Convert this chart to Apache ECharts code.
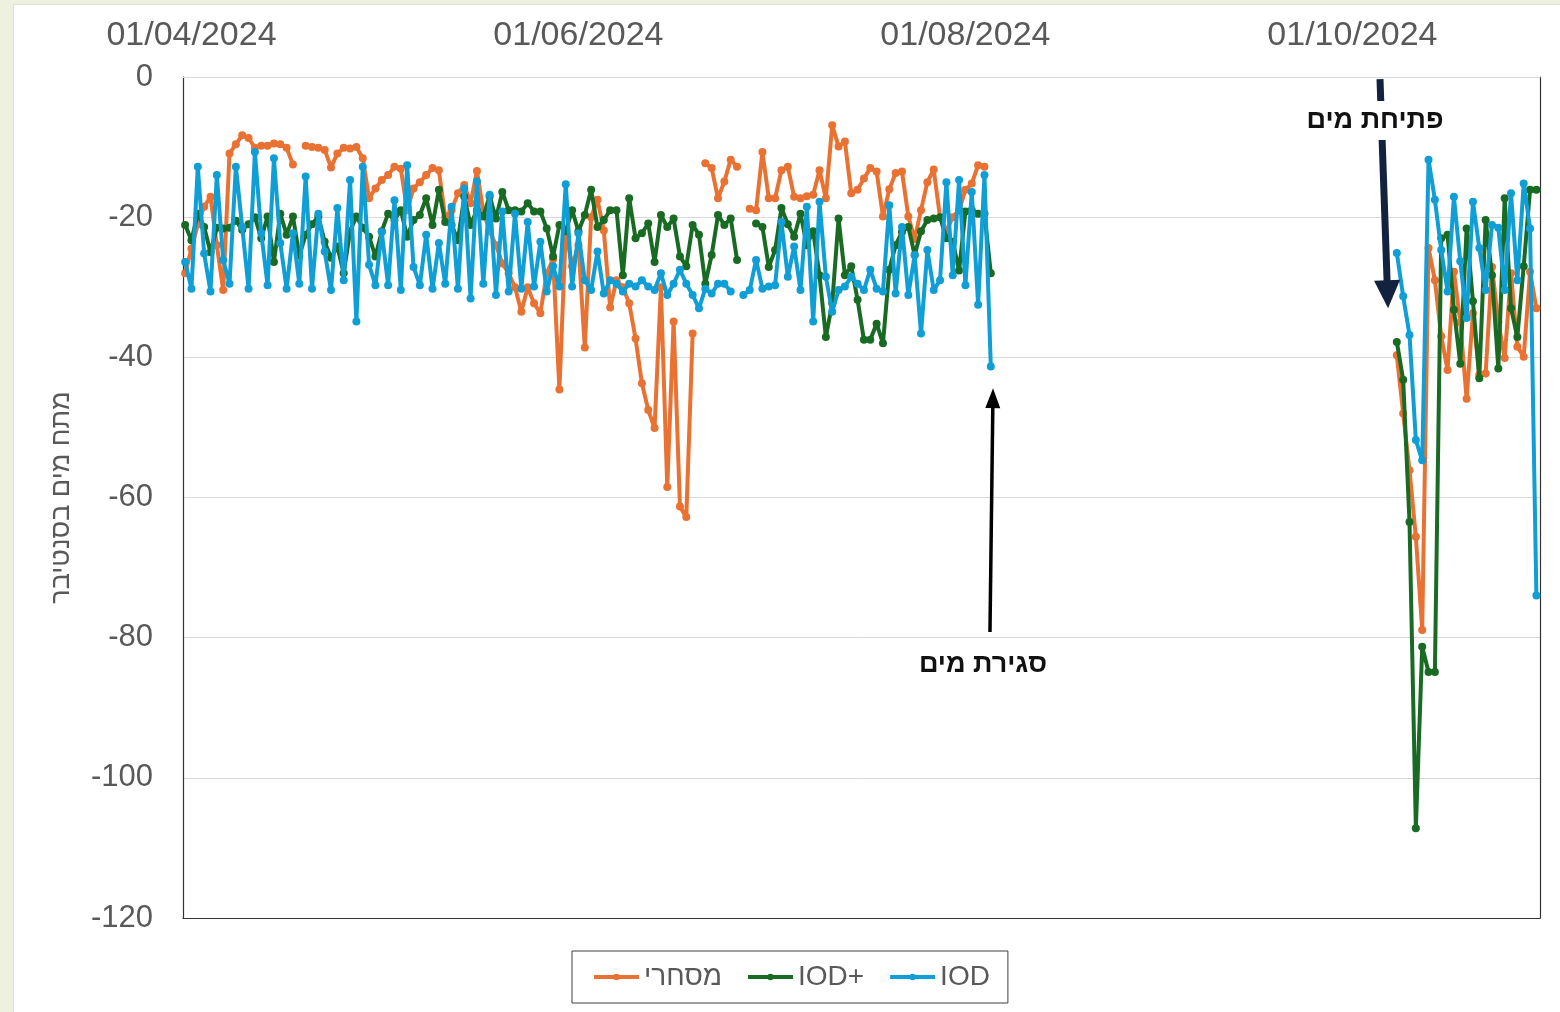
<!DOCTYPE html>
<html>
<head>
<meta charset="utf-8">
<script src="https://cdn.jsdelivr.net/npm/echarts@6/dist/echarts.min.js"></script>
<style>
html,body{margin:0;padding:0;width:1560px;height:1012px;overflow:hidden;background:#eef1df;}
#panel{position:absolute;left:13px;top:4px;width:1560px;height:1030px;background:#fff;border:1px solid #dfe3cf;}
#chart{position:absolute;left:0;top:0;width:1560px;height:1012px;}
</style>
</head>
<body>
<div id="panel"></div>
<div id="chart"></div>
<script>
// ---------- DATA ----------
const seriesNames = ['מסחרי', 'IOD+', 'IOD'];
const yTicks = [0, -20, -40, -60, -80, -100, -120];
const xTickDates = ['2024-04-01', '2024-06-01', '2024-08-01', '2024-10-01'];

// Segment A: daily from 2024-03-31 to 2024-08-05
const startA = '2024-03-31';
const commercialA = [
 -28,-24.5,-21,-18.5,-17.1,-24,-30.4,-10.9,-9.6,-8.3,
 -8.7,-10.1,-9.8,-9.8,-9.5,-9.6,-10.1,-12.5,null,-9.8,
 -10,-10.1,-10.4,-12.9,-10.9,-10.1,-10.2,-10,-11.6,-17.3,
 -15.9,-14.7,-14,-12.8,-13.1,-19,-15.9,-15,-14,-13,
 -13.3,-20,-19,-16.6,-15.4,-18,-13.4,-19.2,-22,-24,
 -26.6,-28,-30,-33.5,-30,-32.3,-33.7,-28,-26,-44.6,
 -22,-27,-24,-38.6,-20,-17.5,-21.9,-32.9,-29,-30,
 -32.3,-37.3,-43.7,-47.5,-50.1,-30,-58.5,-34.9,-61.3,-62.8,
 -36.6,null,-12.3,-13,-17.3,-14.9,-11.8,-12.8,null,-18.8,
 -19,-10.7,-17.3,-17.3,-13.3,-12.8,-17.1,-17.3,-17,-16.8,
 -13.3,-17.3,-6.9,-9.9,-9.2,-16.6,-16.1,-14.5,-13,-13.5,
 -19.9,-16,-13.7,-13.5,-19.9,-23.1,-19,-15,-13.2,-20,
 -22,-20,-19,-16.1,-15.2,-12.6,-12.8,null
];
const iodPlusA = [
 -21.1,-23.3,-19.5,-21.4,-25,-21.5,-21.6,-21.5,-20.5,-21.8,
 -21,-20,-23,-19.9,-26.4,-19.5,-22.5,-19.9,-25.5,-22.5,
 -21,-19.9,-23.5,-25.8,-24.2,-28,-22,-19.9,-21.5,-22.8,
 -25.6,-22,-19.5,-20.4,-19,-22.8,-20.4,-19.7,-17.3,-21.1,
 -16.1,-20.7,-21.1,-23.3,-17.1,-21.1,-19,-19.9,-17,-20.2,
 -16.4,-19,-19,-19.2,-18,-19.2,-19.2,-21.6,-25.6,-21.1,
 -22,-19,-22,-19.7,-16.1,-21.4,-20.4,-19,-19,-28.3,
 -17.3,-23,-22.3,-20.9,-26.4,-19.7,-21.4,-20.2,-25.6,-27,
 -21.1,-22.5,-29.5,-25.4,-19.7,-21.1,-20.2,-26.1,null,null,
 -20.9,-21.4,-27.1,-24.7,-18.7,-21,-22.8,-19.5,-24,-22,
 -28.3,-37.1,-32.3,-20.2,-28.3,-27,-31.8,-37.5,-37.5,-35.2,
 -38,-27.5,-24,-22.1,-21.4,-25.4,-22,-20.4,-20.2,-20,
 -23,-23.5,-27.6,-19.2,-19,-19.5,-19.5,-28
];
const iodA = [
 -26.4,-30.2,-12.8,-25.2,-30.6,-14,-26.1,-29.5,-12.8,-21.4,
 -30.2,-10.7,-22.3,-29.7,-11.6,-23.7,-30.2,-22.3,-29.5,-14.2,
 -30.2,-19.5,-24.9,-30.4,-18.7,-29,-14.7,-34.9,-12.8,-26.8,
 -29.7,-22.1,-29.7,-17.6,-30.4,-12.6,-27.1,-29.7,-22.5,-30.2,
 -23.7,-29.5,-18.5,-30.2,-15.9,-31.6,-14.9,-29.5,-16.8,-31.1,
 -19.2,-30.6,-19.5,-30.2,-20.7,-29.9,-23.5,-30.6,-27,-29.9,
 -15.3,-29.9,-22.3,-29,-30.4,-24.9,-30.9,-29,-29.5,-30.6,
 -29.5,-29.9,-29,-29.9,-30.4,-28,-31.1,-29.5,-27.5,-29.5,
 -31.1,-33,-30.2,-30.9,-29.5,-29.5,-30.6,null,-31.1,-30.4,
 -26.1,-30.2,-29.9,-29.7,-20.7,-28.5,-24.2,-30.4,-18.5,-34.9,
 -17.8,-28.5,-33.5,-30.4,-29.9,-28.5,-29.5,-30.4,-27.5,-30.2,
 -30.6,-18.3,-30.9,-21.4,-31.1,-25.4,-36.6,-24.7,-30.4,-29,
 -15,-28.3,-14.7,-29.7,-16.4,-32.5,-14,-41.3
];

// Segment B: daily from 2024-10-08 to 2024-10-30
const startB = '2024-10-08';
const commercialB = [-39.7,-48,-56.1,-65.6,-78.9,-24.4,-29,-37,-41.8,-27.8,-35,-45.9,-33.7,-42.5,-42.3,-27.1,-35,-40.1,-28,-38.5,-39.9,-27.8,-33];
const iodPlusB = [-37.8,-43.2,-63.5,-107.2,-81.3,-84.9,-84.9,-23,-22.5,-33.2,-40.9,-21.6,-32,-43,-20.4,-28.3,-41.6,-17.3,-33,-37.1,-27,-16.1,-16.1];
const iodB = [-25.1,-31.3,-36.8,-51.8,-54.7,-11.8,-17.5,-24.7,-30.6,-17.1,-26.3,-34.4,-17.8,-24.4,-30.4,-21.1,-21.5,-30.4,-16.6,-29,-15.2,-21.6,-74];

// Annotations (data coordinates)
const closeLabel = {text: 'סגירת מים', at: ['2024-08-03T18:30:00Z', -83.8]};
const closeArrow = {from: ['2024-08-04T20:50:00Z', -79.2], to: ['2024-08-05T08:30:00Z', -44.4]};
const openLabel = {text: 'פתיחת מים', at: ['2024-10-04T13:40:00Z', -6.2]};
const openArrow = {from: ['2024-10-05T08:20:00Z', -0.3], to: ['2024-10-06T14:50:00Z', -33.0]};

// ---------- BUILD ----------
const AXIS_MIN = Date.UTC(2024, 2, 30, 16, 0);
const AXIS_MAX = Date.UTC(2024, 9, 30, 13, 40);
function dayTs(start, i) {
  const p = start.split('-').map(Number);
  return Date.UTC(p[0], p[1] - 1, p[2] + i);
}
function build(a, b) {
  const out = a.map((v, i) => [dayTs(startA, i), v]);
  out.push([dayTs(startA, a.length), null]);
  b.forEach((v, i) => out.push([dayTs(startB, i), v]));
  return out;
}
const colors = ['#E97132', '#196B24', '#0F9ED5'];
const FONT = '"Liberation Sans", Arial, "DejaVu Sans", sans-serif';
const dataSets = [build(commercialA, commercialB), build(iodPlusA, iodPlusB), build(iodA, iodB)];

function fmt(v) {
  const d = new Date(v);
  const dd = String(d.getUTCDate()).padStart(2, '0');
  const mm = String(d.getUTCMonth() + 1).padStart(2, '0');
  return dd + '/' + mm + '/' + d.getUTCFullYear();
}
const xTickValues = xTickDates.map(s => dayTs(s, 0));

const chart = echarts.init(document.getElementById('chart'), null, {renderer: 'canvas'});
const option = {
  animation: false,
  backgroundColor: 'transparent',
  textStyle: {fontFamily: FONT},
  grid: {left: 183, right: 20, top: 77, bottom: 94, containLabel: false},
  legend: {
    data: seriesNames,
    left: 572, top: 951,
    padding: [12, 18, 12, 20],
    itemWidth: 45, itemHeight: 8, itemGap: 24,
    borderColor: '#3f3f3f', borderWidth: 1,
    backgroundColor: '#ffffff',
    lineStyle: {width: 4},
    textStyle: {fontSize: 28, color: '#595959', fontFamily: FONT},
    selectedMode: false
  },
  xAxis: [{
    type: 'value', position: 'top', min: AXIS_MIN, max: AXIS_MAX,
    axisLine: {show: true, onZero: false, lineStyle: {color: '#d9d9d9', width: 1}},
    axisTick: {show: false},
    splitLine: {show: false},
    axisLabel: {
      customValues: xTickValues,
      formatter: v => fmt(v),
      fontSize: 34, color: '#595959', margin: 24, fontFamily: FONT
    }
  }, {
    type: 'value', position: 'bottom', min: AXIS_MIN, max: AXIS_MAX,
    axisLine: {show: true, onZero: false, lineStyle: {color: '#333333', width: 1.2}},
    axisTick: {show: false}, axisLabel: {show: false}, splitLine: {show: false}
  }],
  yAxis: [{
    type: 'value', min: -120, max: 0, interval: 20,
    name: 'מתח מים בסנטיבר', nameLocation: 'middle', nameRotate: 90, nameGap: 108,
    nameTextStyle: {fontSize: 27, color: '#595959', fontFamily: FONT},
    axisLine: {show: true, onZero: false, lineStyle: {color: '#333333', width: 1.2}},
    axisTick: {show: false},
    splitLine: {show: true, lineStyle: {color: '#d9d9d9', width: 1}},
    axisLabel: {fontSize: 31, color: '#595959', margin: 30, fontFamily: FONT}
  }, {
    type: 'value', min: -120, max: 0, interval: 20, position: 'right',
    axisLine: {show: true, onZero: false, lineStyle: {color: '#333333', width: 1.2}},
    axisTick: {show: false}, axisLabel: {show: false}, splitLine: {show: false}
  }],
  series: seriesNames.map((n, k) => ({
    name: n, type: 'line', data: dataSets[k],
    xAxisIndex: 0, yAxisIndex: 0,
    connectNulls: false,
    symbol: 'circle', symbolSize: 8, showSymbol: true, showAllSymbol: true,
    lineStyle: {width: 4, color: colors[k]},
    itemStyle: {color: colors[k]},
    emphasis: {disabled: true},
    z: 2 + k
  }))
};
chart.setOption(option);

function px(p) {
  const t = typeof p[0] === 'string' ? Date.parse(p[0]) : p[0];
  return chart.convertToPixel({seriesIndex: 0}, [t, p[1]]);
}
function arrowGraphics(a, color, lw, headW, headL) {
  const p1 = px(a.from), p2 = px(a.to);
  const dx = p2[0] - p1[0], dy = p2[1] - p1[1];
  const len = Math.sqrt(dx * dx + dy * dy);
  const ux = dx / len, uy = dy / len;
  const bx = p2[0] - ux * headL, by = p2[1] - uy * headL;
  const nx = -uy, ny = ux;
  return [{
    type: 'line', z: 50,
    shape: {x1: p1[0], y1: p1[1], x2: bx + ux * 2, y2: by + uy * 2},
    style: {stroke: color, lineWidth: lw}
  }, {
    type: 'polygon', z: 50,
    shape: {points: [[p2[0], p2[1]], [bx + nx * headW / 2, by + ny * headW / 2], [bx - nx * headW / 2, by - ny * headW / 2]]},
    style: {fill: color}
  }];
}
function labelGraphic(l, bg) {
  const p = px(l.at);
  return {
    type: 'text', z: 60, x: p[0], y: p[1],
    style: {
      text: l.text, fill: '#111111', font: 'bold 27px ' + FONT,
      align: 'center', verticalAlign: 'middle',
      backgroundColor: bg || 'transparent', padding: [6, 6]
    }
  };
}
const graphics = []
  .concat(arrowGraphics(closeArrow, '#000000', 3.5, 15, 20))
  .concat(arrowGraphics(openArrow, '#13233f', 7, 26, 28));
graphics.push(labelGraphic(closeLabel));
graphics.push(labelGraphic(openLabel, '#ffffff'));
chart.setOption({graphic: graphics});
</script>
</body>
</html>
